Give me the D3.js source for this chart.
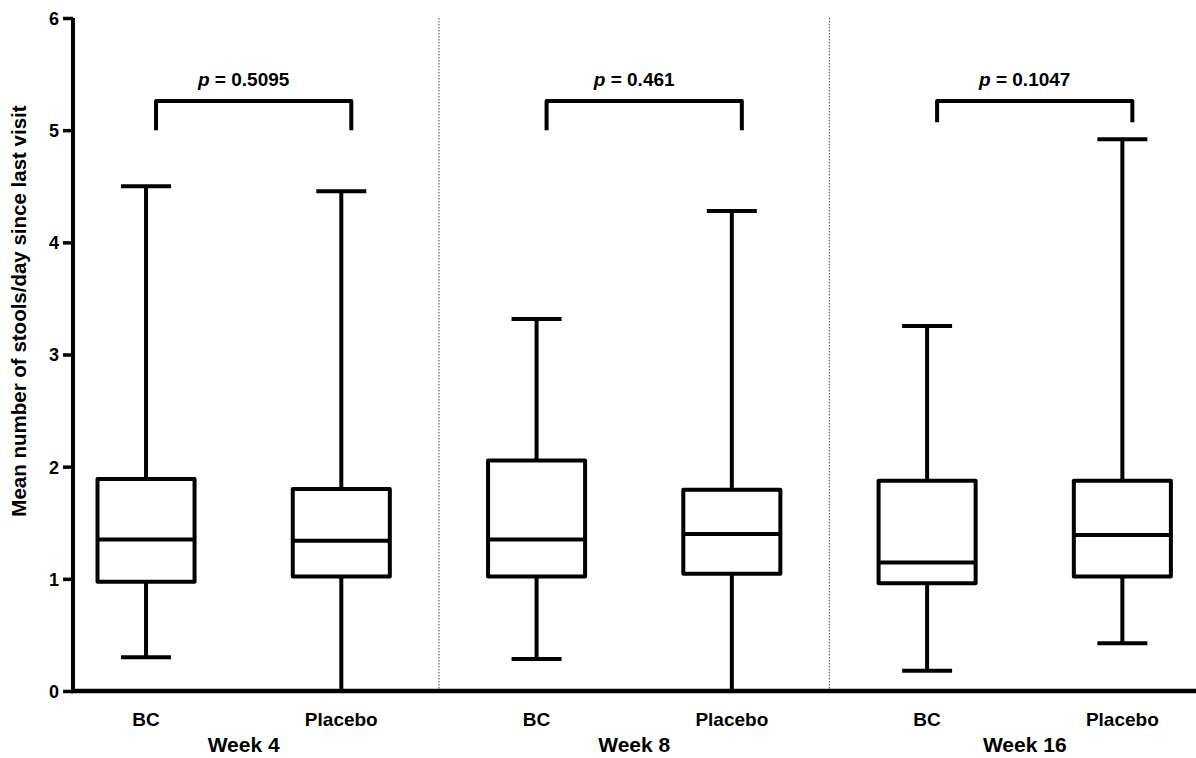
<!DOCTYPE html>
<html>
<head>
<meta charset="utf-8">
<script src="https://cdn.jsdelivr.net/npm/d3@7"></script>
<style>
  html, body { margin: 0; padding: 0; background: #fff; }
  svg { display: block; }
  text { font-family: "Liberation Sans", Arial, Helvetica, sans-serif; font-weight: bold; fill: #000; }
</style>
</head>
<body>
<svg id="chart" width="1196" height="758"></svg>
<script>
// Visit groups and treatment arms
const weeks = ["Week 4", "Week 8", "Week 16"];
const arms = ["BC", "Placebo"];

// Box-plot summaries per arm, ordered Week 4 BC, Week 4 Placebo, Week 8 BC, ...
const whiskerLow  = [0.30, 0.00, 0.285, 0.00, 0.18, 0.425];
const q1          = [0.975, 1.02, 1.02, 1.045, 0.96, 1.02];
const median      = [1.35, 1.34, 1.35, 1.40, 1.145, 1.39];
const q3          = [1.89, 1.80, 2.055, 1.795, 1.875, 1.875];
const whiskerHigh = [4.50, 4.455, 3.316, 4.28, 3.255, 4.92];

// Between-arm comparisons per visit
const pValues = ["0.5095", "0.461", "0.1047"];
const bracketTop = [5.26, 5.26, 5.26];
const bracketLegEnd = [5.0, 5.0, 5.07];

const yTicks = [0, 1, 2, 3, 4, 5, 6];

const W = 1196, H = 758;
const svg = d3.select("#chart");

const keys = [];
weeks.forEach(w => arms.forEach(a => keys.push(w + "|" + a)));

const boxes = keys.map((k, i) => ({
  key: k, week: k.split("|")[0], arm: k.split("|")[1],
  lo: whiskerLow[i], q1: q1[i], med: median[i], q3: q3[i], hi: whiskerHigh[i]
}));

const axisX = 73;
const x = d3.scaleBand().domain(keys).range([48.4, 1220]).padding(0);
const y = d3.scaleLinear().domain([0, 6]).range([691, 18]);
const bw = x.bandwidth();
const boxW = bw * 0.497;
const capW = bw * 0.256;
const cx = k => x(k) + bw / 2;

// Dotted separators between visits
const seps = [keys[2], keys[4]];
svg.append("g").selectAll("line").data(seps).join("line")
  .attr("x1", d => x(d)).attr("x2", d => x(d))
  .attr("y1", y(6)).attr("y2", y(0))
  .attr("stroke", "#666").attr("stroke-width", 1.2)
  .attr("stroke-dasharray", "1.5,1.5");

// Y axis
const yAxis = d3.axisLeft(y).tickValues(yTicks).tickFormat(d3.format("d"))
  .tickSize(10).tickPadding(4);
const gy = svg.append("g").attr("transform", `translate(${axisX},0)`).call(yAxis);
gy.select(".domain").attr("stroke", "#000").attr("stroke-width", 4)
  .attr("d", `M0,${y(6)}V${y(0) + 2}`);
gy.selectAll(".tick line").attr("stroke", "#000").attr("stroke-width", 3.5);
gy.selectAll(".tick text").style("font-size", "18px").style("font-weight", "bold")
  .style("font-family", "'Liberation Sans', Arial, sans-serif").attr("fill", "#000")
  .attr("dy", "0.36em");

// X axis baseline
svg.append("line")
  .attr("x1", axisX - 2).attr("x2", W)
  .attr("y1", y(0)).attr("y2", y(0))
  .attr("stroke", "#000").attr("stroke-width", 4.5);

// Box plots
const g = svg.append("g").attr("stroke", "#000").attr("stroke-width", 4).attr("fill", "none");
const bx = g.selectAll("g.box").data(boxes).join("g").attr("class", "box");

bx.append("line") // upper whisker
  .attr("x1", d => cx(d.key)).attr("x2", d => cx(d.key))
  .attr("y1", d => y(d.q3)).attr("y2", d => y(d.hi));
bx.append("line") // lower whisker
  .attr("x1", d => cx(d.key)).attr("x2", d => cx(d.key))
  .attr("y1", d => y(d.q1)).attr("y2", d => y(d.lo));
bx.filter(d => d.lo > 0).append("line") // lower cap
  .attr("x1", d => cx(d.key) - capW / 2).attr("x2", d => cx(d.key) + capW / 2)
  .attr("y1", d => y(d.lo)).attr("y2", d => y(d.lo));
bx.append("line") // upper cap
  .attr("x1", d => cx(d.key) - capW / 2).attr("x2", d => cx(d.key) + capW / 2)
  .attr("y1", d => y(d.hi)).attr("y2", d => y(d.hi));
bx.append("rect")
  .attr("x", d => cx(d.key) - boxW / 2).attr("width", boxW)
  .attr("y", d => y(d.q3)).attr("height", d => y(d.q1) - y(d.q3))
  .attr("fill", "#fff").attr("stroke-linejoin", "round");
bx.append("line") // median
  .attr("x1", d => cx(d.key) - boxW / 2).attr("x2", d => cx(d.key) + boxW / 2)
  .attr("y1", d => y(d.med)).attr("y2", d => y(d.med));

// Arm labels
svg.append("g").selectAll("text").data(boxes).join("text")
  .attr("x", d => cx(d.key)).attr("y", 726)
  .attr("text-anchor", "middle").style("font-size", "19px")
  .text(d => d.arm);

// Visit labels
svg.append("g").selectAll("text").data(weeks).join("text")
  .attr("x", (w) => (cx(w + "|BC") + cx(w + "|Placebo")) / 2).attr("y", 752)
  .attr("text-anchor", "middle").style("font-size", "21px")
  .text(d => d);

// Significance brackets
const shift = 10;
const br = svg.append("g").selectAll("g").data(weeks).join("g");
br.append("path")
  .attr("fill", "none").attr("stroke", "#000").attr("stroke-width", 4)
  .attr("stroke-linejoin", "round")
  .attr("d", (w, i) => {
    const x1 = cx(w + "|BC") + shift, x2 = cx(w + "|Placebo") + shift;
    return `M${x1},${y(bracketLegEnd[i])}V${y(bracketTop[i])}H${x2}V${y(bracketLegEnd[i])}`;
  });
const pt = br.append("text")
  .attr("x", w => (cx(w + "|BC") + cx(w + "|Placebo")) / 2).attr("y", 86)
  .attr("text-anchor", "middle").style("font-size", "19px");
pt.append("tspan").style("font-style", "italic").text("p");
pt.append("tspan").text((w, i) => " = " + pValues[i]);

// Y axis title
svg.append("text")
  .attr("transform", `translate(26,311) rotate(-90)`)
  .attr("text-anchor", "middle").style("font-size", "20.5px")
  .text("Mean number of stools/day since last visit");
</script>
</body>
</html>
